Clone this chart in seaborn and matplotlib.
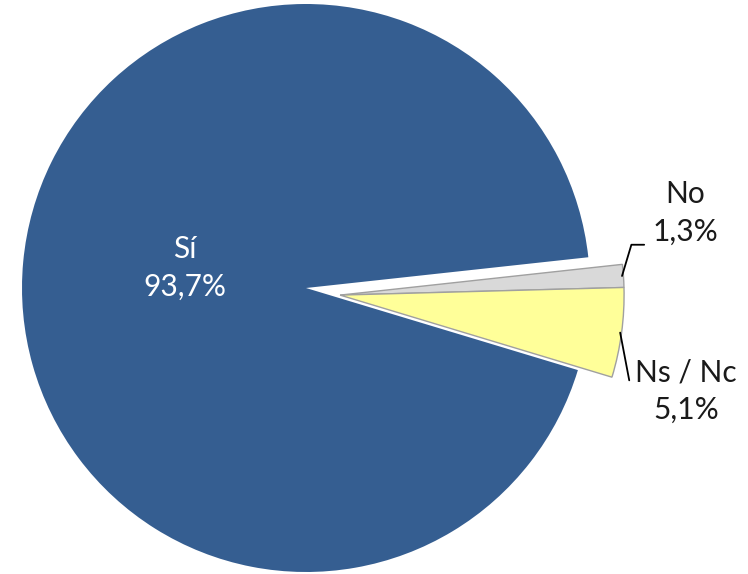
import numpy as np
import matplotlib
matplotlib.use("Agg")
import matplotlib.pyplot as plt
import seaborn as sns

# Survey answers and their shares (%)
categories = ["Sí", "No", "Ns / Nc"]
values = [93.7, 1.3, 5.1]
value_labels = ["93,7%", "1,3%", "5,1%"]
colors = ["#355E91", "#D9D9D9", "#FFFF99"]

sns.set_theme(style="white")
plt.rcParams["font.family"] = ["Lato", "DejaVu Sans"]

W, H = 748, 574
fig = plt.figure(figsize=(W / 100, H / 100), dpi=100)
ax = fig.add_axes([0, 0, 1, 1])

# pie centre and radius in pixels
cx, cy, rad = 306, 288, 284

wedges, _ = ax.pie(
    values, colors=colors, startangle=-16.8, counterclock=False,
    radius=1.0, center=(0, 0), frame=True, wedgeprops=dict(linewidth=0),
)
ax.set_xlim(-cx / rad, (W - cx) / rad)
ax.set_ylim(-(H - cy) / rad, cy / rad)
ax.set_aspect("equal")
ax.axis("off")

# the two small answers are pulled out together, as one block
pull = (0.12, -0.025)
for w in wedges[1:]:
    w.set_center(pull)
    w.set_edgecolor("#A0A0A0")
    w.set_linewidth(1.0)

fs = 21.5
# label inside the large wedge
ax.text(-0.426, 0.07, f"{categories[0]}\n{value_labels[0]}", color="white",
        fontsize=fs, ha="center", va="center", linespacing=1.42)

def outer_point(w, r_extra=0.0):
    mid = np.deg2rad((w.theta1 + w.theta2) / 2)
    cxw, cyw = w.center
    r = w.r + r_extra
    return cxw + r * np.cos(mid), cyw + r * np.sin(mid)

# "No" label with elbow leader
x0, y0 = outer_point(wedges[1], -0.005)
ax.plot([x0, x0 + 0.033, x0 + 0.078], [y0, y0 + 0.11, y0 + 0.11],
        color="black", lw=1.3)
ax.text(1.335, 0.266, f"{categories[1]}\n{value_labels[1]}", color="#1a1a1a",
        fontsize=fs, ha="center", va="center", linespacing=1.42)

# "Ns / Nc" label with straight leader
x1, y1 = outer_point(wedges[2], -0.005)
ax.plot([x1, x1 + 0.032], [y1, y1 - 0.168], color="black", lw=1.3)
ax.text(1.338, -0.364, f"{categories[2]}\n{value_labels[2]}", color="#1a1a1a",
        fontsize=fs, ha="center", va="center", linespacing=1.42)

fig.savefig("out.png", dpi=100, facecolor="white")
